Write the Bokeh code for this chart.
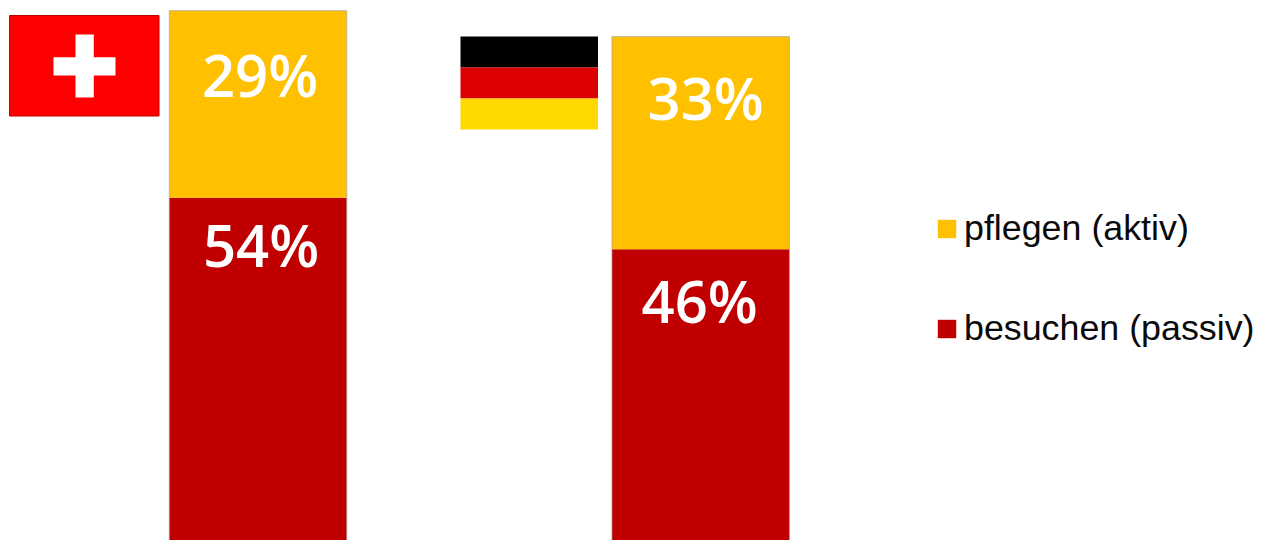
from bokeh.plotting import figure
from bokeh.models import Range1d, BoxAnnotation, Legend, LegendItem, ColumnDataSource
from bokeh.core.properties import value
from bokeh.embed import file_html
from bokeh.resources import INLINE

countries = ["Schweiz", "Deutschland"]
besuchen = [54, 46]
pflegen = [29, 33]
series_names = ["pflegen (aktiv)", "besuchen (passiv)"]
YELLOW = "#ffc000"
RED = "#c00000"
H = 540

pos = list(range(len(countries)))
p = figure(width=1268, height=H, output_backend="svg", toolbar_location=None,
           x_range=Range1d(-0.5817, 2.2826), y_range=Range1d(0.85, 84.57),
           min_border=0, outline_line_color=None)
p.axis.visible = False
p.grid.visible = False
p.background_fill_color = "white"

src = ColumnDataSource(dict(x=pos, b=besuchen, a=pflegen,
                            t=[m + n for m, n in zip(besuchen, pflegen)],
                            z=[0] * len(pos)))
r_red = p.vbar(x="x", bottom="z", top="b", width=0.401, source=src,
               fill_color=RED, line_color=None)
r_yel = p.vbar(x="x", bottom="b", top="t", width=0.401, source=src,
               fill_color=YELLOW, line_color=None)
p.vbar(x="x", bottom="z", top="t", width=0.401, source=src,
       fill_color=None, line_color="#a6a6a6", line_alpha=0.7)

# value labels, each anchored to the top of its segment
label_offsets_a = [(2, 64), (5, 61)]
label_offsets_b = [(3, 47), (-1, 51)]
for tops, vals, offs in ((src.data["t"], pflegen, label_offsets_a),
                         (besuchen, besuchen, label_offsets_b)):
    p.text(x=pos, y=tops, text=[f"{v}%" for v in vals],
           x_offset=[o[0] for o in offs], y_offset=[o[1] for o in offs],
           text_color="white", text_font=value("Open Sans SemiBold, Open Sans"),
           text_font_size="58px", text_align="center", text_baseline="middle")

# flags, in canvas pixels (annotation screen y counts up from the bottom)
def box(l, r, t, b, fill, line=None):
    p.add_layout(BoxAnnotation(left=l, right=r, top=H - t, bottom=H - b,
                               left_units="screen", right_units="screen",
                               top_units="screen", bottom_units="screen",
                               fill_color=fill, fill_alpha=1,
                               line_color=line, line_alpha=1 if line else 0,
                               level="overlay"))

box(9, 158.5, 15, 115.5, "#ff0000", "#c00000")
box(75, 93.3, 34, 97, "#ffffff")
box(53, 115, 56.7, 75, "#ffffff")
box(460, 597.5, 36, 67, "#000000")
box(460, 597.5, 67, 98, "#dd0000")
box(460, 597.5, 98, 129, "#ffd900")

legend = Legend(items=[LegendItem(label=series_names[0], renderers=[r_yel]),
                       LegendItem(label=series_names[1], renderers=[r_red])],
                location=(935, 191), padding=0, margin=0, spacing=59,
                border_line_color=None, background_fill_alpha=0,
                glyph_width=23, glyph_height=23, label_standoff=6,
                label_text_font="Liberation Sans", label_text_font_size="35.8px",
                label_text_color="#0a0a0a", label_text_baseline="middle")
p.add_layout(legend)

open("out.html", "w").write(file_html(p, INLINE))
